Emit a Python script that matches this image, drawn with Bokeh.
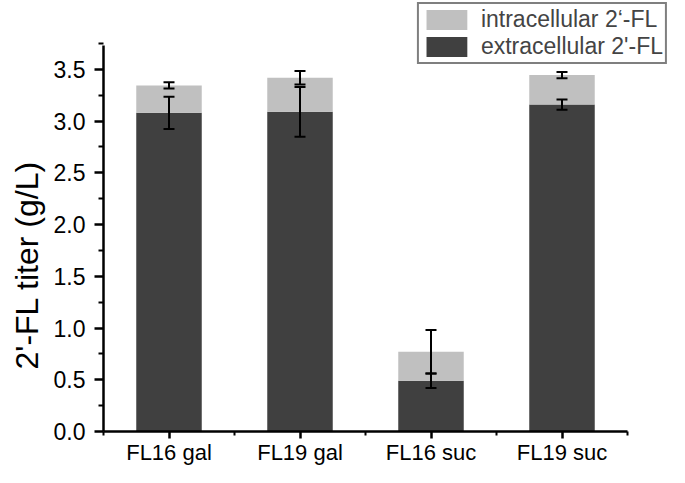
from bokeh.plotting import figure
from bokeh.models import (Range1d, FixedTicker, PrintfTickFormatter, ColumnDataSource,
                          Whisker, TeeHead, Legend, LegendItem, Title)
from bokeh.embed import file_html
from bokeh.resources import INLINE

categories = ["FL16 gal", "FL19 gal", "FL16 suc", "FL19 suc"]
extracellular = [3.08, 3.09, 0.49, 3.16]
intracellular = [0.265, 0.33, 0.28, 0.285]
extracellular_err = [0.155, 0.24, 0.07, 0.05]
intracellular_err = [0.03, 0.065, 0.21, 0.03]
y_ticks = [0.0, 0.5, 1.0, 1.5, 2.0, 2.5, 3.0, 3.5]
y_axis_max = 3.73
y_label = "2'-FL titer (g/L)"

xs = [i + 1 for i in range(len(categories))]
totals = [e + i for e, i in zip(extracellular, intracellular)]

src = ColumnDataSource(dict(
    x=xs, ext=extracellular, tot=totals,
    ext_lo=[e - d for e, d in zip(extracellular, extracellular_err)],
    ext_hi=[e + d for e, d in zip(extracellular, extracellular_err)],
    tot_lo=[t - d for t, d in zip(totals, intracellular_err)],
    tot_hi=[t + d for t, d in zip(totals, intracellular_err)],
))

FONT = "Liberation Sans"

W, H = 669, 467
LEFT, BOTTOM = 103, 35
frame_w, frame_h = W - LEFT, H - BOTTOM
px_per_x = 131.0
px_per_y = 103.7

p = figure(width=W, height=H, output_backend="svg", toolbar_location=None, title=None,
           x_range=Range1d(0.5, 0.5 + frame_w / px_per_x),
           y_range=Range1d(0, frame_h / px_per_y),
           min_border_left=LEFT, min_border_right=0, min_border_top=0, min_border_bottom=BOTTOM)
p.outline_line_color = None
p.xgrid.visible = False
p.ygrid.visible = False

r_ext = p.vbar(x="x", top="ext", bottom=0, width=0.5, source=src,
               fill_color="#404040", line_color=None)
r_int = p.vbar(x="x", top="tot", bottom="ext", width=0.5, source=src,
               fill_color="#c0c0c0", line_color=None)

for lo, hi in (("ext_lo", "ext_hi"), ("tot_lo", "tot_hi")):
    w = Whisker(base="x", lower=lo, upper=hi, source=src, line_color="black", line_width=2,
                level="overlay",
                upper_head=TeeHead(size=11, line_width=2, line_color="black"),
                lower_head=TeeHead(size=11, line_width=2, line_color="black"))
    p.add_layout(w)

# axes
p.xaxis.ticker = FixedTicker(ticks=xs, minor_ticks=[x - 0.5 for x in xs] + [xs[-1] + 0.5])
p.xaxis.major_label_overrides = {x: c for x, c in zip(xs, categories)}
p.xaxis.bounds = (0.5, len(categories) + 0.5)
p.yaxis.ticker = FixedTicker(ticks=y_ticks, minor_ticks=[t + 0.25 for t in y_ticks])
p.yaxis.formatter = PrintfTickFormatter(format="%.1f")
p.yaxis.bounds = (0, y_axis_max)

for ax in (p.xaxis[0], p.yaxis[0]):
    ax.axis_line_width = 2.5
    ax.axis_line_color = "black"
    ax.major_tick_line_width = 2.5
    ax.minor_tick_line_width = 2
    ax.major_tick_line_color = "black"
    ax.minor_tick_line_color = "black"
    ax.major_tick_in = 0
    ax.minor_tick_in = 0
    ax.major_tick_out = 9
    ax.minor_tick_out = 5
    ax.major_label_text_font = FONT
    ax.major_label_text_font_size = "23px"
    ax.major_label_text_color = "black"

p.xaxis.major_tick_out = 7
p.xaxis.minor_tick_out = 4
p.xaxis.major_label_standoff = 1
p.xaxis.major_label_text_font_size = "22px"
p.yaxis.major_label_standoff = 9

ytitle = Title(text=y_label, align="left", offset=62, standoff=11,
               text_font=FONT, text_font_size="32px", text_font_style="normal",
               text_color="black")
p.add_layout(ytitle, "left")

legend = Legend(items=[LegendItem(label="intracellular 2\u2018-FL", renderers=[r_int]),
                       LegendItem(label="extracellular 2'-FL", renderers=[r_ext])],
                location="top_right", orientation="vertical",
                glyph_width=51, glyph_height=25, label_standoff=9,
                label_text_font=FONT, label_text_font_size="23px",
                label_height=25, spacing=0, padding=2, margin=2,
                border_line_color="black", border_line_width=2,
                background_fill_color="white", background_fill_alpha=1.0)
p.add_layout(legend, "center")

open("out.html", "w").write(file_html(p, INLINE))
